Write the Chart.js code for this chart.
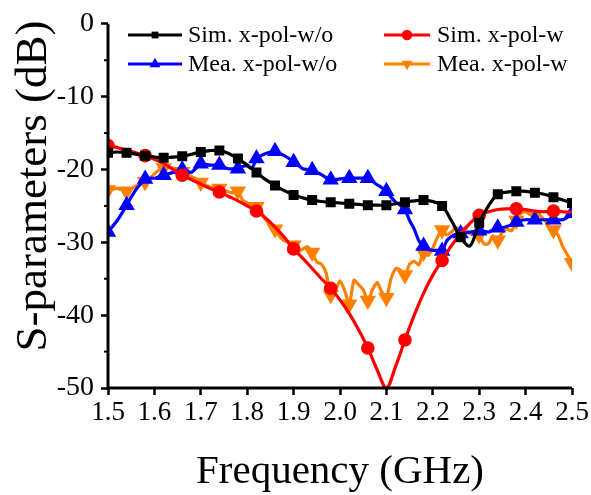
<!DOCTYPE html>
<html><head><meta charset="utf-8">
<script src="https://cdn.jsdelivr.net/npm/chart.js@4.4.1/dist/chart.umd.min.js"></script>
<style>html,body{margin:0;padding:0;background:#fff}#probe{position:absolute;left:-1000px;top:0;font-family:'Liberation Serif';font-size:20px}</style>
</head><body>
<div id="probe">Frequency 0123456789</div>
<canvas id="c" width="591" height="495"></canvas>
<script>
// Frequencies (GHz)
const freqSim = [1.50,1.52,1.54,1.56,1.58,1.60,1.62,1.64,1.66,1.68,1.70,1.72,1.74,1.76,1.78,1.80,1.82,1.84,1.86,1.88,1.90,1.92,1.94,1.96,1.98,2.00,2.02,2.04,2.06,2.08,2.10,2.12,2.14,2.16,2.18,2.20,2.22,2.24,2.26,2.28,2.30,2.32,2.34,2.36,2.38,2.40,2.42,2.44,2.46,2.48,2.50];
const freqMea = [1.50,1.51,1.52,1.53,1.54,1.55,1.56,1.57,1.58,1.59,1.60,1.61,1.62,1.63,1.64,1.65,1.66,1.67,1.68,1.69,1.70,1.71,1.72,1.73,1.74,1.75,1.76,1.77,1.78,1.79,1.80,1.81,1.82,1.83,1.84,1.85,1.86,1.87,1.88,1.89,1.90,1.91,1.92,1.93,1.94,1.95,1.96,1.97,1.98,1.99,2.00,2.01,2.02,2.03,2.04,2.05,2.06,2.07,2.08,2.09,2.10,2.11,2.12,2.13,2.14,2.15,2.16,2.17,2.18,2.19,2.20,2.21,2.22,2.23,2.24,2.25,2.26,2.27,2.28,2.29,2.30,2.31,2.32,2.33,2.34,2.35,2.36,2.37,2.38,2.39,2.40,2.41,2.42,2.43,2.44,2.45,2.46,2.47,2.48,2.49,2.50];

// Series (dB)
const simXpolWo = [-17.7,-17.6,-17.7,-17.9,-18.1,-18.3,-18.4,-18.3,-18.2,-17.9,-17.6,-17.4,-17.4,-17.8,-18.5,-19.4,-20.4,-21.4,-22.2,-22.9,-23.5,-23.9,-24.2,-24.4,-24.5,-24.6,-24.7,-24.8,-24.9,-24.9,-24.9,-24.7,-24.5,-24.3,-24.2,-24.4,-25.0,-27.0,-29.3,-30.5,-27.3,-25.0,-23.4,-23.1,-23.0,-23.0,-23.2,-23.4,-23.8,-24.2,-24.6];
const simXpolW = [-16.7,-17.0,-17.4,-17.7,-18.1,-18.6,-19.2,-20.0,-20.8,-21.4,-22.0,-22.6,-23.1,-23.7,-24.3,-25.0,-25.7,-26.7,-27.9,-29.3,-30.9,-32.2,-33.6,-35.0,-36.3,-37.9,-39.8,-42.0,-44.5,-47.5,-50.0,-47.0,-43.4,-40.0,-37.0,-34.5,-32.5,-30.5,-28.8,-27.4,-26.3,-25.8,-25.5,-25.4,-25.4,-25.5,-25.7,-25.8,-25.7,-25.8,-25.9];
const meaXpolWo = [-28.6,-27.8,-27.0,-26.0,-24.9,-23.8,-22.8,-22.0,-21.3,-21.2,
 -21.2,-21.0,-20.8,-20.6,-20.4,-20.2,-20.0,-20.2,-20.4,-19.8,
 -19.2,-19.3,-19.4,-19.4,-19.4,-19.7,-19.9,-19.9,-19.9,-19.6,
 -19.5,-19.9,-18.5,-18.1,-17.8,-17.6,-17.5,-17.8,-18.1,-18.5,
 -19.0,-19.4,-19.9,-20.0,-20.1,-20.4,-20.7,-21.1,-21.4,-21.4,
 -21.3,-21.2,-21.2,-21.2,-21.2,-21.2,-21.2,-21.6,-22.1,-22.5,
 -23.0,-23.8,-24.5,-24.9,-25.5,-27.0,-28.2,-29.8,-30.5,-31.0,
 -31.1,-31.1,-31.2,-29.8,-29.2,-28.9,-28.8,-28.7,-28.6,-28.5,
 -28.4,-28.5,-28.6,-28.3,-28.0,-28.0,-27.8,-27.6,-27.2,-27.0,
 -26.9,-26.9,-26.9,-26.9,-26.9,-26.9,-26.9,-26.9,-26.9,-26.6,
 -26.0];
const meaXpolW = [-22.8,-22.7,-22.6,-22.8,-23.0,-22.7,-22.3,-22.0,-21.7,-21.2,
 -20.6,-20.1,-19.8,-19.7,-19.8,-20.0,-20.3,-20.7,-21.0,-21.3,
 -21.8,-22.1,-22.4,-22.6,-22.6,-22.9,-23.1,-23.2,-23.0,-24.2,
 -24.6,-24.9,-25.1,-25.8,-26.9,-27.8,-28.2,-29.2,-29.8,-30.0,
 -30.4,-31.2,-30.9,-30.6,-31.4,-32.7,-33.0,-34.2,-37.2,-36.6,
 -35.3,-36.6,-38.5,-35.2,-35.8,-36.5,-38.0,-36.5,-35.5,-36.8,
 -37.6,-35.0,-33.6,-33.8,-34.5,-33.0,-32.6,-33.1,-31.4,-31.8,
 -30.8,-29.3,-28.3,-29.0,-28.6,-28.0,-28.5,-28.3,-28.8,-28.9,
 -29.0,-30.2,-30.2,-29.1,-29.7,-28.6,-28.2,-28.4,-27.0,-26.0,
 -25.8,-26.2,-26.2,-26.3,-26.9,-27.7,-28.3,-29.0,-30.6,-31.7,
 -32.8];

const seriesNames = ['Sim. x-pol-w/o','Sim. x-pol-w','Mea. x-pol-w/o','Mea. x-pol-w'];
const xTicks = [1.5,1.6,1.7,1.8,1.9,2.0,2.1,2.2,2.3,2.4,2.5];
const yTicks = [0,-10,-20,-30,-40,-50];
const yMinorTicks = [-5,-15,-25,-35,-45];
const xTitle = 'Frequency (GHz)';
const yTitle = 'S-parameters (dB)';

const FONT = '"Liberation Serif", "Times New Roman", Times, serif';
const pts = (xs, ys) => xs.map((x,i)=>({x:x,y:ys[i]}));
const every = (n, r) => (c => (c.dataIndex % n === 0 ? r : 0));
const LW = 3.2;

const datasets = [
 {label:seriesNames[0], data:pts(freqSim,simXpolWo), borderColor:'#000', backgroundColor:'#000', pointStyle:'rect', pointRadius:every(2,4.8), borderWidth:LW, tension:0.35},
 {label:seriesNames[1], data:pts(freqSim,simXpolW), borderColor:'#ff0000', backgroundColor:'#ff0000', pointStyle:'circle', pointRadius:every(4,5.2), borderWidth:LW, tension:0.35},
 {label:seriesNames[2], data:pts(freqMea,meaXpolWo), borderColor:'#0000ff', backgroundColor:'#0000ff', pointStyle:'triangle', pointRadius:every(4,6.3), borderWidth:LW, tension:0.2},
 {label:seriesNames[3], data:pts(freqMea,meaXpolW), borderColor:'#ff8000', backgroundColor:'#ff8000', pointStyle:'triangle', pointRotation:180, pointRadius:every(4,6.3), borderWidth:LW, tension:0.2}
];

const extras = {
 id:'extras',
 afterDraw(chart){
  const c = chart.ctx, ys = chart.scales.y, ca = chart.chartArea;
  c.save();
  // axis lines
  c.strokeStyle = '#000'; c.lineWidth = 3;
  c.beginPath(); c.moveTo(ca.left, ca.top); c.lineTo(ca.left, ca.bottom); c.lineTo(ca.right, ca.bottom); c.stroke();
  // minor y ticks
  c.lineWidth = 2;
  yMinorTicks.forEach(v => { const py = ys.getPixelForValue(v); c.beginPath(); c.moveTo(ca.left-4, py); c.lineTo(ca.left, py); c.stroke(); });
  // legend
  const rows = [
   {i:0, x0:128, x1:182, tx:188, y:35, r:4.8},
   {i:1, x0:384, x1:430, tx:437, y:35, r:5.2},
   {i:2, x0:128, x1:182, tx:188, y:64, r:6.3},
   {i:3, x0:384, x1:430, tx:437, y:64, r:6.3}
  ];
  c.font = '24px ' + FONT; c.textBaseline = 'middle'; c.textAlign = 'left';
  rows.forEach(r => {
   const ds = chart.data.datasets[r.i];
   c.strokeStyle = ds.borderColor; c.lineWidth = LW;
   c.beginPath(); c.moveTo(r.x0, r.y); c.lineTo(r.x1, r.y); c.stroke();
   c.fillStyle = ds.backgroundColor;
   Chart.helpers.drawPoint(c, {pointStyle:ds.pointStyle, rotation:ds.pointRotation||0, radius:r.r, borderWidth:0}, (r.x0+r.x1)/2, r.y);
   c.fillStyle = '#000';
   c.fillText(seriesNames[r.i], r.tx, r.y+1);
  });
  // axis titles
  c.fillStyle = '#000';
  c.font = '41px ' + FONT; c.textAlign = 'center'; c.textBaseline = 'alphabetic';
  c.fillText(xTitle, (ca.left+ca.right)/2, 483);
  c.translate(46, 186); c.rotate(-Math.PI/2);
  c.font = '45px ' + FONT;
  c.fillText(yTitle, 0, 0);
  c.restore();
 }
};

function build(){
 new Chart(document.getElementById('c'), {
  type:'line',
  data:{datasets:datasets},
  plugins:[extras],
  options:{
   responsive:false, animation:false, devicePixelRatio:1,
   layout:{padding:{top:18,right:19,left:0,bottom:0}},
   plugins:{legend:{display:false}, tooltip:{enabled:false}},
   elements:{point:{borderWidth:0, hoverRadius:0}},
   scales:{
    x:{type:'linear', min:1.5, max:2.5,
       afterBuildTicks:s=>{s.ticks = xTicks.map(v=>({value:v}));},
       afterFit:s=>{s.height = 107;},
       ticks:{autoSkip:false, maxRotation:0, padding:2, color:'#000', font:{family:FONT,size:27}, callback:v=>Number(v).toFixed(1)},
       grid:{drawOnChartArea:false, drawTicks:true, tickLength:7, tickColor:'#000', tickWidth:2.5},
       border:{display:false}},
    y:{type:'linear', min:-50, max:0,
       afterBuildTicks:s=>{s.ticks = yTicks.map(v=>({value:v}));},
       afterFit:s=>{s.width = 108;},
       ticks:{padding:7, color:'#000', font:{family:FONT,size:28}},
       grid:{drawOnChartArea:false, drawTicks:true, tickLength:7, tickColor:'#000', tickWidth:2.5},
       border:{display:false}}
   }
  }
 });
}
Promise.all([
 document.fonts.load('26px "Liberation Serif"'),
 document.fonts.load('23px "Liberation Serif"')
]).then(build, build);
</script>
</body></html>
